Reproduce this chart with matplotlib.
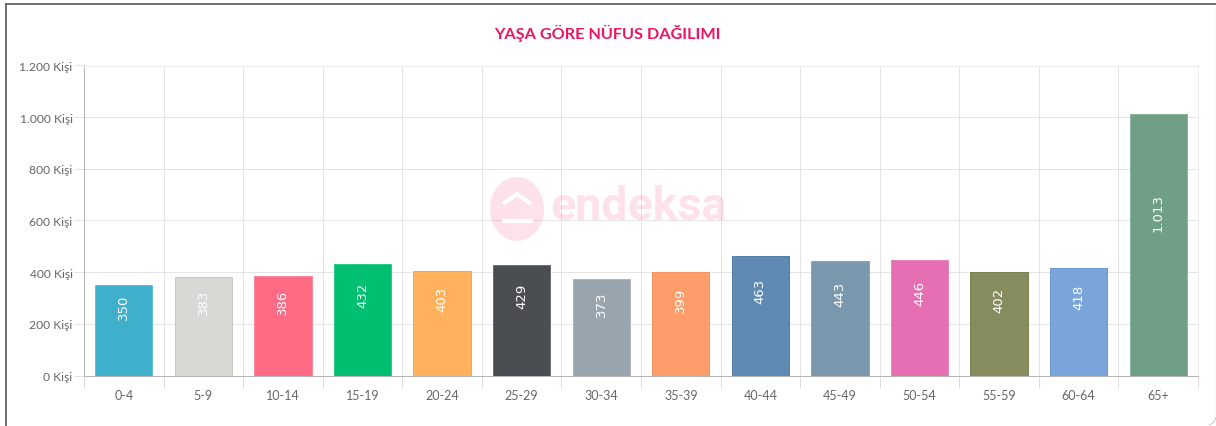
import matplotlib
matplotlib.use("Agg")
import matplotlib.pyplot as plt
from matplotlib.patches import Ellipse, Polygon, Rectangle, PathPatch
from matplotlib.path import Path
import numpy as np

categories = ["0-4", "5-9", "10-14", "15-19", "20-24", "25-29", "30-34",
              "35-39", "40-44", "45-49", "50-54", "55-59", "60-64", "65+"]
values = [350, 383, 386, 432, 403, 429, 373, 399, 463, 443, 446, 402, 418, 1013]
value_labels = ["350", "383", "386", "432", "403", "429", "373",
                "399", "463", "443", "446", "402", "418", "1.013"]
colors = ["#3fb0cb", "#d8d9d4", "#ff6b85", "#00c06f", "#ffb15c", "#4a4e52", "#98a5ae",
          "#ff9c6c", "#5e8ab4", "#7998ae", "#e66fb4", "#878c5f", "#7aa5db", "#6fa085"]
edge_colors = ["#62c0d6", "#c9cac4", "#ff8a9e", "#2ccb88", "#f5a651", "#6b6f72", "#aab4bc",
               "#f39263", "#527ea8", "#8ba6b9", "#eb85c0", "#7b8055", "#6d98cf", "#8ab4a0"]
y_ticks = [0, 200, 400, 600, 800, 1000, 1200]
y_tick_labels = ["0 Kişi", "200 Kişi", "400 Kişi", "600 Kişi", "800 Kişi", "1.000 Kişi", "1.200 Kişi"]
title = "YAŞA GÖRE NÜFUS DAĞILIMI"

W, H = 1216, 427
plt.rcParams["font.family"] = ["Lato", "DejaVu Sans"]
fig = plt.figure(figsize=(W / 100, H / 100), dpi=100, facecolor="white")

L, R, T, B = 84, 1198, 66.5, 376.5
ax = fig.add_axes([L / W, 1 - B / H, (R - L) / W, (B - T) / H])
x = np.arange(len(categories))
ax.set_axisbelow(True)
ax.bar(x, values, width=0.72, color=colors, edgecolor=edge_colors, linewidth=0.72, zorder=3)
ax.set_xlim(-0.5, len(categories) - 0.5)
ax.set_ylim(0, 1200)

ax.set_yticks(y_ticks)
ax.set_yticklabels(y_tick_labels, fontsize=8.7, color="#666666")
ax.tick_params(axis="y", length=7.2, width=0.72, color="#e2e2e2", pad=1)
ax.set_xticks(np.arange(len(categories) + 1) - 0.5)
ax.set_xticklabels([])
ax.tick_params(axis="x", which="major", length=8.6, width=0.72, color="#dddddd")
ax.set_xticks(x, minor=True)
ax.set_xticklabels(categories, minor=True, fontsize=9.0, color="#666666")
ax.tick_params(axis="x", which="minor", length=0, pad=9.5)
ax.grid(True, which="major", color="#e4e4e4", linewidth=0.72)

for side in ("top", "right"):
    ax.spines[side].set_color("#ececec")
    ax.spines[side].set_linewidth(0.72)
ax.spines["left"].set_color("#b5b5b5")
ax.spines["bottom"].set_color("#b5b5b5")
ax.spines["left"].set_linewidth(0.72)
ax.spines["bottom"].set_linewidth(0.72)

for xi, v, lab in zip(x, values, value_labels):
    ax.text(xi, v * 0.55 + 75, lab, rotation=90, ha="center", va="center",
            color="white", fontsize=9.5, family=["DejaVu Sans"], zorder=4)

# Overlay in reference pixel coordinates: frame, title, watermark
ov = fig.add_axes([0, 0, 1, 1], facecolor="none")
ov.set_xlim(0, W)
ov.set_ylim(H, 0)
ov.axis("off")

ov.plot([5.5, 5.5], [H, 5], color="#555555", lw=1.2, solid_capstyle="butt")
ov.plot([5, 1215.5], [5, 5], color="#555555", lw=1.2, solid_capstyle="butt")
ov.plot([1215.5, 1215.5], [5, 418], color="#9a9a9a", lw=0.8)
ov.add_patch(PathPatch(Path([(1215.5, 418), (1215.5, 424), (1209, 426)],
                            [Path.MOVETO, Path.CURVE3, Path.CURVE3]),
                       fill=False, edgecolor="#cccccc", lw=0.8))

ov.text(607.5, 33, title, ha="center", va="center", fontsize=11.7, fontweight="bold",
        color="#ec1561")

pink = "#fd6d95"
ov.add_patch(Ellipse((517, 210), 54, 64, facecolor=pink, edgecolor="none", alpha=0.2))
ov.add_patch(Polygon([(503, 205), (517, 195), (531, 205)], closed=False, fill=False,
                     edgecolor="white", lw=3.0, joinstyle="miter"))
ov.add_patch(Rectangle((502, 220), 31, 4, facecolor="white", edgecolor="none"))
ov.text(638.5, 207, "endeksa", ha="center", va="center", fontsize=33.5, fontweight="bold",
        color=pink, alpha=0.2, family=["Roboto", "DejaVu Sans"])

fig.savefig("out.png", dpi=100, facecolor="white")
